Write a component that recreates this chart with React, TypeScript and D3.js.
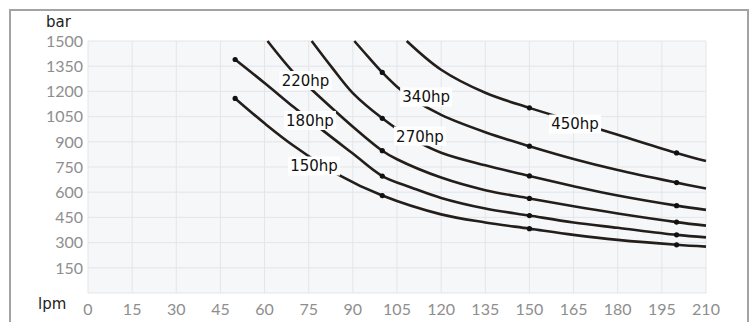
import React from "react";
import * as d3 from "d3";

const xTicks = [0, 15, 30, 45, 60, 75, 90, 105, 120, 135, 150, 165, 180, 195, 210];
const yTicks = [150, 300, 450, 600, 750, 900, 1050, 1200, 1350, 1500];

const hp150: [number, number][] = [[50, 1158], [60, 1010], [70, 875], [85, 705], [100, 580], [120, 468], [135, 420], [150, 383], [165, 346], [180, 316], [200, 287], [210, 276]];
const hp180: [number, number][] = [[50, 1390], [60, 1250], [70, 1105], [80, 965], [90, 830], [100, 696], [110, 627], [120, 566], [135, 503], [150, 461], [165, 420], [180, 388], [200, 346], [210, 331]];
const hp220: [number, number][] = [[61, 1500], [70, 1310], [77, 1195], [90, 990], [100, 847], [105, 796], [120, 687], [135, 612], [150, 563], [165, 516], [180, 473], [200, 422], [210, 401]];
const hp270: [number, number][] = [[76, 1500], [83, 1340], [90, 1190], [100, 1040], [110, 920], [120, 835], [135, 760], [150, 697], [165, 636], [180, 580], [200, 520], [210, 495]];
const hp340: [number, number][] = [[90.5, 1500], [95, 1410], [100, 1313], [105, 1228], [110, 1160], [120, 1060], [135, 957], [150, 874], [165, 798], [180, 732], [200, 657], [210, 622]];
const hp450: [number, number][] = [[108.3, 1500], [120, 1329], [135, 1192], [150, 1102], [165, 1022], [180, 942], [200, 834], [210, 785]];

const seriesNames = ["150hp", "180hp", "220hp", "270hp", "340hp", "450hp"];
const seriesValues = [hp150, hp180, hp220, hp270, hp340, hp450];
const seriesDots = [[50, 100, 150, 200], [50, 100, 150, 200], [100, 150, 200], [100, 150, 200], [100, 150, 200], [150, 200]];
// label anchors in data units (lpm, bar)
const labelAnchors: [number, number][] = [[76.8, 756], [75.4, 1027], [73.9, 1265], [112.8, 934], [114.9, 1167], [165.5, 1006]];

const W = 754;
const H = 322;
const left = 88, right = 706, top = 41, bottom = 293;

export default function App() {
  const x = d3.scaleLinear().domain([0, 210]).range([left, right]);
  const y = d3.scaleLinear().domain([0, 1500]).range([bottom, top]);
  const line = d3
    .line<[number, number]>()
    .x((d) => x(d[0]))
    .y((d) => y(d[1]))
    .curve(d3.curveCatmullRom.alpha(0.5));

  const tickFont = "Lato, 'Open Sans', sans-serif";
  const labelFont = "'DejaVu Sans', sans-serif";

  return (
    <svg width={W} height={H} style={{ position: "absolute", left: 0, top: 0 }}>
      <rect x={10} y={10} width={738} height={340} fill="#fff" stroke="#a3a3a3" strokeWidth={2} />
      <rect x={left} y={top} width={right - left} height={bottom - top} fill="#f6f7f9" />
      {xTicks.map((t) => (
        <line key={"vx" + t} x1={x(t)} x2={x(t)} y1={top} y2={bottom} stroke="#e3e5e8" strokeWidth={1} />
      ))}
      {[0, ...yTicks].map((t) => (
        <line key={"hy" + t} x1={left} x2={right} y1={y(t)} y2={y(t)} stroke="#e3e5e8" strokeWidth={1} />
      ))}
      {yTicks.map((t) => (
        <text key={"yl" + t} x={83} y={y(t)} dy="0.36em" textAnchor="end" fontFamily={tickFont} fontSize={16} fill="#8e8e8e">
          {t}
        </text>
      ))}
      {xTicks.map((t) => (
        <text key={"xl" + t} x={x(t)} y={315} textAnchor="middle" fontFamily={tickFont} fontSize={16} fill="#8e8e8e">
          {t}
        </text>
      ))}
      <text x={46} y={27} fontFamily={labelFont} fontSize={15} fill="#222">bar</text>
      <text x={38} y={309} fontFamily={labelFont} fontSize={15} fill="#222">lpm</text>
      {seriesValues.map((vals, i) => (
        <g key={"s" + i}>
          <path d={line(vals) || ""} fill="none" stroke="#241e1a" strokeWidth={2.6} />
          {seriesDots[i].map((q) => {
            const pt = vals.find((v) => v[0] === q);
            if (!pt) return null;
            return <circle key={"d" + q} cx={x(pt[0])} cy={y(pt[1])} r={2.6} fill="#111" />;
          })}
        </g>
      ))}
      {seriesNames.map((n, i) => {
        const cx = x(labelAnchors[i][0]);
        const cy = y(labelAnchors[i][1]);
        return (
          <g key={"l" + n}>
            <rect x={cx - 26} y={cy - 9.5} width={52} height={19} fill="#fff" />
            <text x={cx} y={cy + 5.5} textAnchor="middle" fontFamily={labelFont} fontSize={15} fill="#111">
              {n}
            </text>
          </g>
        );
      })}
    </svg>
  );
}
